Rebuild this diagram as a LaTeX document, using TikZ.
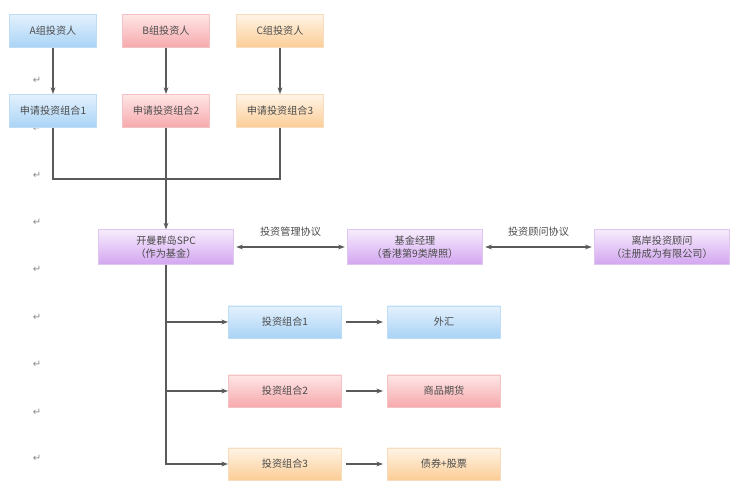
\documentclass[tikz,border=0pt]{standalone}
\usepackage{fontspec}
\setmainfont{Noto Sans CJK SC}
\newfontfamily\fdsym{DejaVu Sans}
\usetikzlibrary{arrows.meta,positioning}
\definecolor{fdink}      {HTML}{4A4A4A}
\definecolor{fdline}     {HTML}{5A5A5A}
\definecolor{fdmarkc}    {HTML}{8A8A8A}
\definecolor{fdbluetop}  {HTML}{E4F1FD}
\definecolor{fdbluebot}  {HTML}{A9D3F6}
\definecolor{fdblueedge} {HTML}{BFDDF5}
\definecolor{fdredtop}   {HTML}{FFE6E6}
\definecolor{fdredbot}   {HTML}{F6A9AC}
\definecolor{fdrededge}  {HTML}{F2C2C4}
\definecolor{fdorgtop}   {HTML}{FFF4E6}
\definecolor{fdorgbot}   {HTML}{FBCD96}
\definecolor{fdorgedge}  {HTML}{F7DDBE}
\definecolor{fdpurtop}   {HTML}{F6ECFC}
\definecolor{fdpurbot}   {HTML}{D4A6F0}
\definecolor{fdpuredge}  {HTML}{DFC6EF}
\tikzset{
  fdbox/.style={draw=fd#1edge, top color=fd#1top, bottom color=fd#1bot,
                text=fdink, align=center, inner sep=1pt,
                font=\fontsize{7.6}{9.5}\selectfont},
  fdsmall/.style={fdbox=#1, minimum width=65pt, minimum height=25pt},
  fdport/.style={fdbox=#1, minimum width=85pt, minimum height=24pt},
  fdwide/.style={fdbox=#1, minimum width=101pt, minimum height=26pt},
  fdedge/.style={draw=fdline, line width=0.9pt},
  fdarrow/.style={fdedge, -{Stealth[length=5pt,width=3.6pt]}},
  fdboth/.style={fdedge, {Stealth[length=5pt,width=3.6pt]}-{Stealth[length=5pt,width=3.6pt]},
                 shorten <=2pt, shorten >=2pt},
  fdlabel/.style={text=fdink, font=\fontsize{7.6}{9}\selectfont},
  fdmark/.style={text=fdmarkc, font=\fdsym\fontsize{7.5}{7.5}\selectfont, inner sep=0pt},
}
\begin{document}
\begin{tikzpicture}[x=0.75pt,y=-0.75pt]
  \useasboundingbox (0,0) rectangle (744,499);
  % paragraph marks down the left margin
  \foreach \y in {80,128,175,222,269,317,364,412,458}
    \node[fdmark] (m\y) at (37,\y) {↵};
  % investor groups and applications
  \node[fdsmall=blue] (ta) at (53,31)  {A组投资人};
  \node[fdsmall=red]  (tb) at (166,31) {B组投资人};
  \node[fdsmall=org]  (tc) at (280,31) {C组投资人};
  \node[fdsmall=blue] (pa) at (53,111)  {申请投资组合1};
  \node[fdsmall=red]  (pb) at (166,111) {申请投资组合2};
  \node[fdsmall=org]  (pc) at (280,111) {申请投资组合3};
  \coordinate (mj) at (166,179);
  % fund row
  \node[fdwide=pur] (spc) at (166,247) {开曼群岛SPC\\（作为基金）};
  \node[fdwide=pur] (mgr) at (415,247) {基金经理\\（香港第9类牌照）};
  \node[fdwide=pur] (adv) at (662,247) {离岸投资顾问\\（注册成为有限公司）};
  % portfolios
  \node[fdport=blue] (f1) at (285,322) {投资组合1};
  \node[fdport=red]  (f2) at (285,391) {投资组合2};
  \node[fdport=org]  (f3) at (285,464) {投资组合3};
  \node[fdport=blue] (g1) at (444,322) {外汇};
  \node[fdport=red]  (g2) at (444,391) {商品期货};
  \node[fdport=org]  (g3) at (444,464) {债券+股票};
  % connectors
  \draw[fdarrow] (ta) -- (pa);
  \draw[fdarrow] (tb) -- (pb);
  \draw[fdarrow] (tc) -- (pc);
  \draw[fdedge] (pa) |- (mj) -| (pc);
  \draw[fdarrow] (pb) -- (spc);
  \draw[fdboth] (spc) -- node[fdlabel, above=4pt] (l1) {投资管理协议} (mgr);
  \draw[fdboth] (mgr) -- node[fdlabel, above=4pt] (l2) {投资顾问协议} (adv);
  \draw[fdarrow] (spc) |- (f1);
  \draw[fdarrow] (spc) |- (f2);
  \draw[fdarrow] (spc) |- (f3);
  \draw[fdarrow, shorten <=3pt, shorten >=3pt] (f1) -- (g1);
  \draw[fdarrow, shorten <=3pt, shorten >=3pt] (f2) -- (g2);
  \draw[fdarrow, shorten <=3pt, shorten >=3pt] (f3) -- (g3);
\end{tikzpicture}
\end{document}
